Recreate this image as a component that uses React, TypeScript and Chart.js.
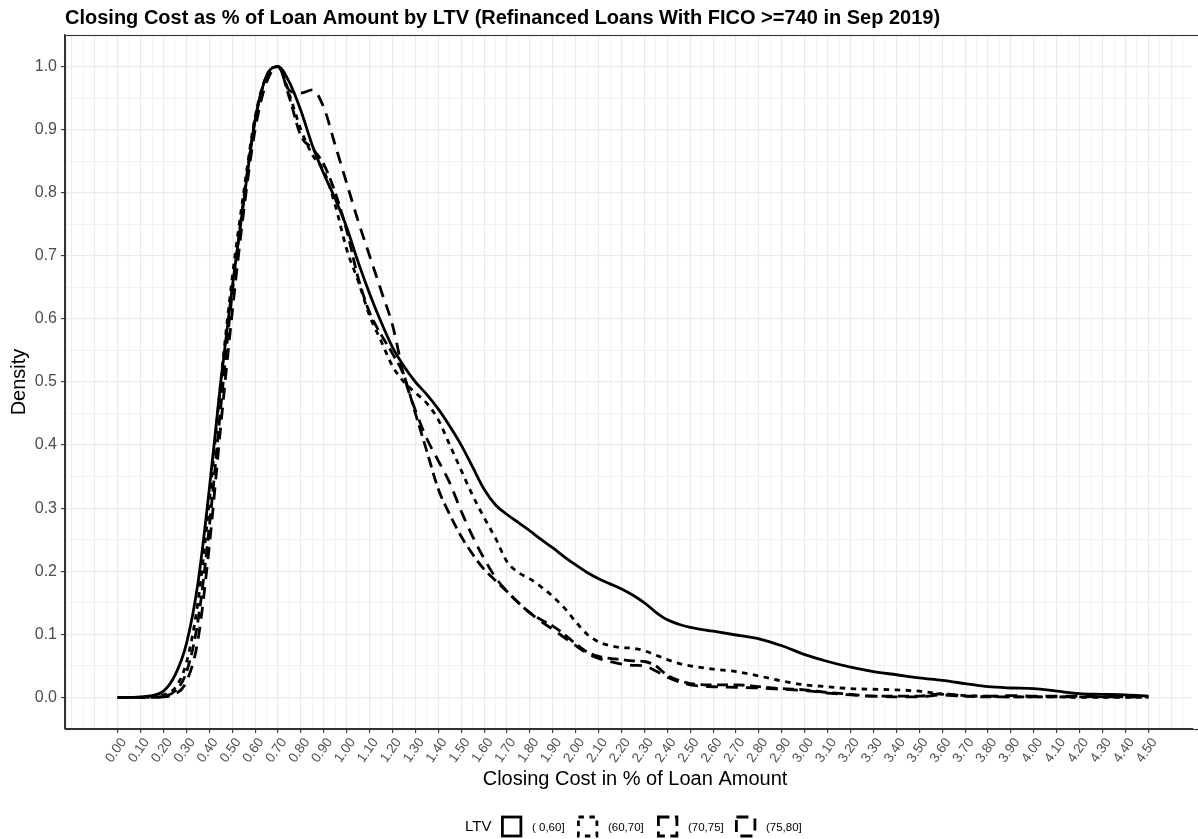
import { useEffect, useRef } from 'react';
import { Chart, registerables } from 'chart.js';
Chart.register(...registerables);

const chartTitle = 'Closing Cost as % of Loan Amount by LTV (Refinanced Loans With FICO >=740 in Sep 2019)';
const xAxisTitle = 'Closing Cost in % of Loan Amount';
const yAxisTitle = 'Density';
const legendTitle = 'LTV';
const seriesLabels = ['( 0,60]', '(60,70]', '(70,75]', '(75,80]'];

const xValues = [
  0.00, 0.05, 0.10, 0.15, 0.20, 0.25, 0.30, 0.35, 0.40, 0.45,
  0.50, 0.55, 0.60, 0.65, 0.70, 0.75, 0.80, 0.85, 0.90, 0.95,
  1.00, 1.05, 1.10, 1.15, 1.20, 1.25, 1.30, 1.35, 1.40, 1.45,
  1.50, 1.55, 1.60, 1.65, 1.70, 1.75, 1.80, 1.85, 1.90, 1.95,
  2.00, 2.05, 2.10, 2.15, 2.20, 2.25, 2.30, 2.35, 2.40, 2.45,
  2.50, 2.60, 2.70, 2.80, 2.90, 3.00, 3.10, 3.20, 3.30, 3.40,
  3.50, 3.60, 3.70, 3.80, 3.90, 4.00, 4.10, 4.20, 4.30, 4.40,
  4.50,
];

const ltv0to60 = [
  0, 0, 0.001, 0.003, 0.01, 0.035, 0.085, 0.18, 0.33, 0.50,
  0.65, 0.785, 0.915, 0.985, 1.0, 0.975, 0.93, 0.875, 0.83, 0.79,
  0.745, 0.69, 0.64, 0.595, 0.555, 0.525, 0.50, 0.48, 0.457, 0.43,
  0.40, 0.365, 0.33, 0.305, 0.29, 0.277, 0.264, 0.25, 0.237, 0.223,
  0.21, 0.198, 0.188, 0.18, 0.172, 0.162, 0.15, 0.135, 0.123, 0.116,
  0.111, 0.105, 0.099, 0.093, 0.082, 0.068, 0.057, 0.048, 0.041, 0.036,
  0.031, 0.027, 0.022, 0.017, 0.015, 0.014, 0.010, 0.006, 0.005, 0.004,
  0.002,
];

const ltv60to70 = [
  0, 0, 0, 0.001, 0.004, 0.015, 0.055, 0.15, 0.31, 0.50,
  0.665, 0.80, 0.92, 0.985, 1.0, 0.955, 0.90, 0.86, 0.835, 0.78,
  0.71, 0.66, 0.605, 0.565, 0.525, 0.50, 0.483, 0.466, 0.44, 0.40,
  0.36, 0.32, 0.285, 0.252, 0.215, 0.198, 0.188, 0.175, 0.16, 0.142,
  0.12, 0.10, 0.088, 0.082, 0.079, 0.078, 0.074, 0.067, 0.06, 0.054,
  0.05, 0.045, 0.041, 0.034, 0.026, 0.02, 0.017, 0.014, 0.013, 0.012,
  0.010, 0.005, 0.003, 0.002, 0.001, 0.001, 0.001, 0, 0, 0,
  0,
];

const ltv70to75 = [
  0, 0, 0, 0, 0.002, 0.01, 0.04, 0.12, 0.27, 0.46,
  0.64, 0.79, 0.915, 0.985, 1.0, 0.95, 0.89, 0.87, 0.845, 0.80,
  0.74, 0.665, 0.61, 0.575, 0.545, 0.51, 0.45, 0.39, 0.33, 0.29,
  0.255, 0.227, 0.203, 0.185, 0.168, 0.15, 0.134, 0.123, 0.113, 0.10,
  0.085, 0.072, 0.065, 0.062, 0.06, 0.058, 0.057, 0.05, 0.035, 0.027,
  0.022, 0.02, 0.02, 0.017, 0.014, 0.012, 0.008, 0.005, 0.002, 0.002,
  0.002, 0.006, 0.002, 0.001, 0.001, 0.001, 0.001, 0.001, 0.001, 0.001,
  0.001,
];

const ltv75to80 = [
  0, 0, 0, 0, 0.001, 0.005, 0.025, 0.09, 0.24, 0.43,
  0.61, 0.77, 0.90, 0.975, 1.0, 0.962, 0.958, 0.963, 0.935, 0.875,
  0.815, 0.755, 0.70, 0.645, 0.59, 0.51, 0.455, 0.41, 0.375, 0.34,
  0.295, 0.255, 0.22, 0.19, 0.168, 0.15, 0.134, 0.12, 0.108, 0.095,
  0.082, 0.07, 0.062, 0.057, 0.053, 0.051, 0.05, 0.042, 0.032, 0.025,
  0.02, 0.017, 0.016, 0.015, 0.013, 0.011, 0.007, 0.004, 0.002, 0.001,
  0.001, 0.004, 0.002, 0.002, 0.003, 0.002, 0.002, 0.002, 0.001, 0.001,
  0.001,
];

const xTickLabels = [
  '0.00', '0.10', '0.20', '0.30', '0.40', '0.50', '0.60', '0.70', '0.80', '0.90',
  '1.00', '1.10', '1.20', '1.30', '1.40', '1.50', '1.60', '1.70', '1.80', '1.90',
  '2.00', '2.10', '2.20', '2.30', '2.40', '2.50', '2.60', '2.70', '2.80', '2.90',
  '3.00', '3.10', '3.20', '3.30', '3.40', '3.50', '3.60', '3.70', '3.80', '3.90',
  '4.00', '4.10', '4.20', '4.30', '4.40', '4.50',
];
const yTickLabels = ['0.0', '0.1', '0.2', '0.3', '0.4', '0.5', '0.6', '0.7', '0.8', '0.9', '1.0'];

const seriesValues = [ltv0to60, ltv60to70, ltv70to75, ltv75to80];
const seriesDash = [[], [5.5, 5.5], [11, 5.5], [12, 8]];
const legendKeyX = [501, 577, 657, 735];

const FONT = '"Liberation Sans", Arial, Helvetica, sans-serif';
const LINE_W = 2.8;

function isMajor(v: number) {
  return Math.round(v * 100) % 10 === 0;
}

export default function App() {
  const ref = useRef<HTMLCanvasElement | null>(null);

  useEffect(() => {
    const canvas = ref.current;
    if (!canvas) return;

    const overlay = {
      id: 'ggOverlay',
      afterDraw(chart: any) {
        const ctx = chart.ctx;
        const a = chart.chartArea;
        ctx.save();
        ctx.strokeStyle = '#333333';
        ctx.lineWidth = 1.1;
        ctx.setLineDash([]);
        ctx.strokeRect(a.left + 0.5, a.top + 0.5, a.right - a.left + 10, a.bottom - a.top);
        ctx.fillStyle = '#000';
        ctx.font = `bold 20px ${FONT}`;
        ctx.textAlign = 'left';
        ctx.textBaseline = 'alphabetic';
        ctx.fillText(chartTitle, 65, 24);
        ctx.font = `20px ${FONT}`;
        ctx.textAlign = 'center';
        ctx.textBaseline = 'middle';
        ctx.fillText(xAxisTitle, 635, 779);
        ctx.save();
        ctx.translate(19, (a.top + a.bottom) / 2);
        ctx.rotate(-Math.PI / 2);
        ctx.fillText(yAxisTitle, 0, 0);
        ctx.restore();
        const midY = 827;
        ctx.textAlign = 'left';
        ctx.textBaseline = 'middle';
        ctx.font = `15px ${FONT}`;
        ctx.fillText(legendTitle, 465, midY);
        ctx.font = `11.5px ${FONT}`;
        seriesLabels.forEach((lab, i) => {
          ctx.save();
          ctx.strokeStyle = '#000';
          ctx.lineWidth = LINE_W;
          ctx.setLineDash(seriesDash[i]);
          ctx.strokeRect(legendKeyX[i] + 1.4, midY - 10, 18.5, 19);
          ctx.restore();
          ctx.fillStyle = '#000';
          ctx.fillText(lab, legendKeyX[i] + 31, midY + 1);
        });
        ctx.restore();
      },
    };

    const chart = new Chart(canvas, {
      type: 'line',
      data: {
        datasets: seriesLabels.map((lab, i) => ({
          label: lab,
          data: xValues.map((xv, j) => ({ x: xv, y: seriesValues[i][j] })),
          borderColor: '#000000',
          backgroundColor: 'rgba(0,0,0,0)',
          borderWidth: LINE_W,
          borderDash: seriesDash[i],
          borderCapStyle: 'butt',
          pointRadius: 0,
          fill: false,
          cubicInterpolationMode: 'monotone',
        })),
      },
      options: {
        responsive: false,
        animation: false,
        events: [],
        layout: { padding: { top: 35, left: 0, right: 0, bottom: 0 } },
        plugins: {
          legend: { display: false },
          title: { display: false },
          tooltip: { enabled: false },
        },
        scales: {
          x: {
            type: 'linear',
            min: -0.23,
            max: 4.692,
            afterBuildTicks: (scale: any) => {
              const t = [];
              for (let k = -4; k <= 93; k++) t.push({ value: k * 0.05 });
              scale.ticks = t;
            },
            afterFit: (scale: any) => {
              scale.height = 110;
            },
            grid: {
              color: (c: any) => (c.tick && isMajor(c.tick.value) ? '#ebebeb' : '#f2f2f2'),
              lineWidth: (c: any) => (c.tick && isMajor(c.tick.value) ? 1.2 : 1),
              tickColor: (c: any) => {
                const k = Math.round(c.tick.value * 100);
                return k >= 0 && k <= 450 && k % 10 === 0 ? '#333333' : 'rgba(0,0,0,0)';
              },
              tickLength: 4,
              tickWidth: 1.1,
              drawTicks: true,
            },
            border: { display: true, color: '#333333', width: 1.1 },
            ticks: {
              autoSkip: false,
              maxRotation: 55,
              minRotation: 55,
              padding: 2,
              labelOffset: 6,
              color: '#4d4d4d',
              font: { family: FONT, size: 13.5 },
              callback: (v: any) => {
                const k = Math.round(Number(v) * 100);
                if (k >= 0 && k <= 450 && k % 10 === 0) return xTickLabels[k / 10];
                return '';
              },
            },
          },
          y: {
            type: 'linear',
            min: -0.05,
            max: 1.05,
            afterBuildTicks: (scale: any) => {
              const t = [];
              for (let k = 0; k <= 21; k++) t.push({ value: k * 0.05 });
              scale.ticks = t;
            },
            afterFit: (scale: any) => {
              scale.width = 65;
            },
            grid: {
              color: (c: any) => (c.tick && isMajor(c.tick.value) ? '#ebebeb' : '#f2f2f2'),
              lineWidth: (c: any) => (c.tick && isMajor(c.tick.value) ? 1.2 : 1),
              tickColor: (c: any) => {
                const k = Math.round(c.tick.value * 100);
                return k >= 0 && k <= 100 && k % 10 === 0 ? '#333333' : 'rgba(0,0,0,0)';
              },
              tickLength: 4,
              tickWidth: 1.1,
            },
            border: { display: true, color: '#333333', width: 1.1 },
            ticks: {
              autoSkip: false,
              padding: 4,
              color: '#4d4d4d',
              font: { family: FONT, size: 16 },
              callback: (v: any) => {
                const k = Math.round(Number(v) * 100);
                if (k >= 0 && k <= 100 && k % 10 === 0) return yTickLabels[k / 10];
                return '';
              },
            },
          },
        },
      },
      plugins: [overlay],
    } as any);

    return () => chart.destroy();
  }, []);

  return (
    <div style={{ position: 'absolute', left: 0, top: 0, width: 1198, height: 839, background: '#fff' }}>
      <canvas ref={ref} width={1198} height={839} style={{ display: 'block' }} />
    </div>
  );
}
